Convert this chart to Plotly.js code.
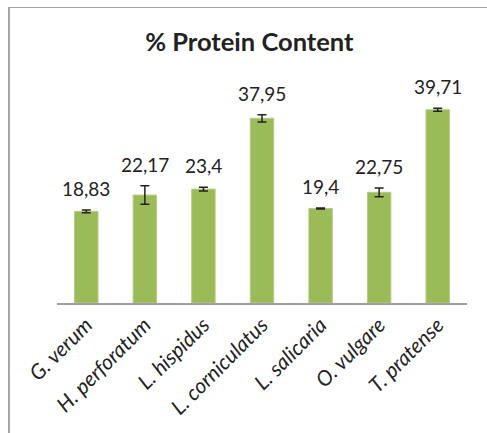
<!DOCTYPE html>
<html>
<head>
<meta charset="utf-8">
<script src="https://cdn.plot.ly/plotly-3.0.1.min.js"></script>
<style>
  html, body { margin: 0; padding: 0; background: #fff; }
  #wrap { position: relative; width: 487px; height: 433px; overflow: hidden; }
  #frame { position: absolute; left: 8px; top: 7px; width: 500px; height: 440px;
           border-left: 2px solid #a6a6a6; border-top: 1px solid #a6a6a6; box-sizing: border-box; pointer-events: none; }
  #chart { position: absolute; left: 0; top: 0; width: 487px; height: 433px; }
</style>
</head>
<body>
<div id="wrap">
  <div id="chart"></div>
  <div id="frame"></div>
</div>
<script>
const species = ["G. verum", "H. perforatum", "L. hispidus", "L. corniculatus", "L. salicaria", "O. vulgare", "T. pratense"];
const protein = [18.83, 22.17, 23.4, 37.95, 19.4, 22.75, 39.71];
const errors = [0.3, 1.9, 0.4, 0.75, 0.1, 0.9, 0.3];

const trace = {
  type: "bar",
  x: species,
  y: protein,
  marker: { color: "#9bbb59", line: { color: "#b3cc82", width: 1 } },
  error_y: { type: "data", array: errors, visible: true, color: "#222222", thickness: 1.5, width: 4.5 },
  hoverinfo: "none"
};

const annotations = species.map((s, i) => ({
  x: s, y: protein[i] + errors[i], xref: "x", yref: "y",
  text: String(protein[i]).replace(".", ","),
  showarrow: false, yanchor: "bottom", yshift: 8,
  font: { family: "Lato, sans-serif", size: 19, color: "#222222" }
}));

const layout = {
  width: 487, height: 433,
  margin: { l: 56.7, r: 20.3, t: 84.3, b: 130 },
  paper_bgcolor: "rgba(0,0,0,0)", plot_bgcolor: "rgba(0,0,0,0)",
  title: { text: "<b>% Protein Content</b>", xref: "container", yref: "container",
           x: 0.512, xanchor: "center", y: 1 - 42 / 433, yanchor: "middle",
           font: { family: "Lato, sans-serif", size: 25.5, color: "#222222" } },
  bargap: 0.6,
  showlegend: false,
  xaxis: { showline: true, linecolor: "#a0a0a0", linewidth: 1.5, ticks: "", tickangle: -45,
           tickfont: { family: "Lato, sans-serif", size: 21, color: "#222222", style: "italic" },
           showgrid: false, zeroline: false, fixedrange: true },
  yaxis: { range: [0, 45], visible: false, showgrid: false, zeroline: false, fixedrange: true },
  annotations: annotations
};

Plotly.newPlot("chart", [trace], layout, { displayModeBar: false, staticPlot: true });
</script>
</body>
</html>
